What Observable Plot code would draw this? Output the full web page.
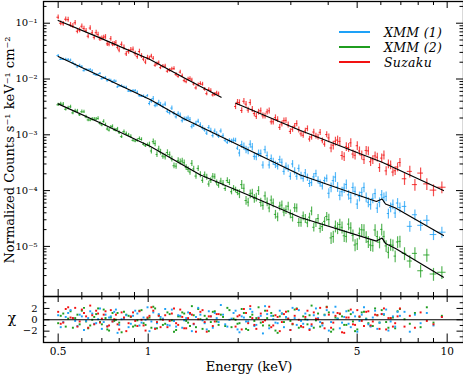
<!DOCTYPE html>
<html><head><meta charset="utf-8">
<script src="https://cdn.jsdelivr.net/npm/d3@7"></script>
<script src="https://cdn.jsdelivr.net/npm/@observablehq/plot@0.6"></script>
<style>
html,body{margin:0;padding:0;background:#fff;}
#chart{position:relative;width:463px;height:376px;overflow:hidden;font-family:"DejaVu Serif",serif;color:#000;background:#fff;}
#chart svg{position:absolute;left:0;}
.lbl{position:absolute;white-space:nowrap;transform:translate(-50%,-50%);}
.leg-line{position:absolute;height:2px;}
.leg-text{position:absolute;white-space:nowrap;font-style:italic;font-size:12.5px;letter-spacing:0.3px;transform:translateY(-50%);}
</style></head><body><div id="chart"></div>
<script>
// ---- data ----
const seriesNames = ["XMM (1)", "XMM (2)", "Suzaku"];
const seriesColors = ["#1ea1f7", "#1f9d1f", "#f21212"];

// XMM channels (two interleaved sets of bin centres, keV)
const xmmEnergies = [0.50,0.52,0.54,0.56,0.58,0.60,0.62,0.64,0.66,0.68,0.70,0.72,0.74,0.76,0.78,0.80,0.83,0.86,0.89,0.92,0.95,0.98,1.01,1.04,1.07,1.10,1.14,1.18,1.22,1.26,1.30,1.34,1.38,1.42,1.47,1.52,1.57,1.62,1.67,1.72,1.78,1.84,1.90,1.96,2.02,2.09,2.16,2.23,2.30,2.38,2.46,2.54,2.62,2.71,2.80,2.89,2.99,3.09,3.19,3.30,3.41,3.52,3.64,3.76,3.89,4.02,4.16,4.30,4.45,4.60,4.76,4.92,5.09,5.27,5.45,5.64,5.84,6.04,6.25,6.47,6.70,6.95,7.20,7.50,7.80,8.15,8.55,9.00,9.60];
const xmmEnergiesB = [0.51,0.53,0.55,0.57,0.59,0.61,0.63,0.65,0.67,0.69,0.71,0.73,0.75,0.77,0.79,0.815,0.845,0.875,0.905,0.935,0.965,0.995,1.025,1.055,1.085,1.12,1.16,1.20,1.24,1.28,1.32,1.36,1.40,1.445,1.495,1.545,1.595,1.645,1.695,1.75,1.81,1.87,1.93,1.99,2.055,2.125,2.195,2.265,2.34,2.42,2.50,2.58,2.665,2.755,2.845,2.94,3.04,3.14,3.245,3.355,3.465,3.58,3.70,3.825,3.955,4.09,4.23,4.375,4.525,4.68,4.84,5.005,5.18,5.36,5.545,5.74,5.94,6.145,6.36,6.585,6.825];

const xmm1Flux = [2.63e-2,2.25e-2,2.21e-2,1.94e-2,1.65e-2,1.66e-2,1.47e-2,1.47e-2,1.22e-2,1.18e-2,
1.01e-2,1.06e-2,9.67e-3,8.74e-3,9.08e-3,7.47e-3,7.17e-3,6.08e-3,6.16e-3,5.78e-3,
4.92e-3,4.66e-3,3.64e-3,4.44e-3,3.45e-3,3.50e-3,3.55e-3,2.49e-3,2.41e-3,2.38e-3,
1.79e-3,1.91e-3,1.88e-3,1.49e-3,1.75e-3,1.33e-3,1.07e-3,1.20e-3,1.17e-3,9.42e-4,
9.63e-4,7.36e-4,7.65e-4,7.96e-4,4.72e-4,6.21e-4,5.18e-4,6.06e-4,4.04e-4,4.64e-4,
5.40e-4,2.88e-4,3.32e-4,2.76e-4,3.22e-4,2.73e-4,1.81e-4,2.23e-4,2.50e-4,1.66e-4,
1.72e-4,1.39e-4,2.02e-4,1.35e-4,1.51e-4,8.96e-5,1.51e-4,1.16e-4,9.56e-5,1.29e-4,
7.30e-5,9.69e-5,7.85e-5,1.14e-4,6.19e-5,7.24e-5,4.85e-5,8.41e-5,7.88e-5,5.00e-5,
3.96e-5,4.98e-5,5.21e-5,2.29e-5,3.69e-5,2.39e-5,2.94e-5,1.63e-5,1.80e-5];
const xmm1FluxB = [2.26e-2,2.24e-2,2.17e-2,1.81e-2,1.75e-2,1.41e-2,1.44e-2,1.39e-2,1.18e-2,1.25e-2,
1.03e-2,9.30e-3,9.45e-3,9.20e-3,7.19e-3,7.48e-3,7.06e-3,6.00e-3,6.18e-3,5.00e-3,
4.94e-3,5.01e-3,4.04e-3,3.34e-3,3.81e-3,3.23e-3,2.64e-3,3.01e-3,2.10e-3,2.25e-3,
1.92e-3,2.00e-3,1.40e-3,1.60e-3,1.51e-3,1.22e-3,1.35e-3,9.68e-4,1.04e-3,1.17e-3,
7.96e-4,7.84e-4,8.01e-4,5.76e-4,6.69e-4,5.40e-4,6.78e-4,4.10e-4,4.64e-4,2.87e-4,
4.26e-4,3.76e-4,2.92e-4,3.60e-4,2.21e-4,2.50e-4,3.00e-4,1.81e-4,1.85e-4,2.08e-4,
1.34e-4,1.76e-4,1.54e-4,1.21e-4,1.66e-4,1.14e-4,1.75e-4,8.24e-5,1.11e-4,8.40e-5,
1.14e-4,5.74e-5,9.29e-5,7.54e-5,5.58e-5,8.84e-5,6.16e-5,7.57e-5,3.88e-5,5.68e-5,
5.99e-5];

const xmm2Flux = [3.45e-3,3.53e-3,3.03e-3,2.47e-3,2.67e-3,2.59e-3,2.09e-3,1.84e-3,1.90e-3,1.96e-3,
1.50e-3,1.51e-3,1.21e-3,1.41e-3,1.21e-3,1.09e-3,1.14e-3,9.92e-4,7.96e-4,7.91e-4,
8.27e-4,6.37e-4,6.60e-4,7.54e-4,4.45e-4,4.91e-4,4.03e-4,4.40e-4,2.79e-4,3.45e-4,
3.38e-4,2.60e-4,2.15e-4,2.45e-4,2.50e-4,1.53e-4,1.75e-4,1.52e-4,1.77e-4,1.25e-4,
1.36e-4,1.52e-4,9.54e-5,1.03e-4,8.76e-5,1.10e-4,6.20e-5,8.98e-5,7.59e-5,6.15e-5,
8.04e-5,4.88e-5,6.00e-5,3.38e-5,5.50e-5,4.55e-5,3.82e-5,4.92e-5,2.69e-5,3.52e-5,
2.64e-5,4.31e-5,2.66e-5,2.10e-5,2.81e-5,3.03e-5,1.50e-5,2.14e-5,2.20e-5,1.51e-5,
2.15e-5,1.06e-5,1.72e-5,1.97e-5,1.21e-5,1.03e-5,1.50e-5,2.02e-5,1.02e-5,1.08e-5,
6.70e-6,1.23e-5,7.51e-6,5.47e-6,7.50e-6,3.66e-6,7.02e-6,3.20e-6,3.44e-6];
const xmm2FluxB = [3.60e-3,2.87e-3,3.17e-3,2.67e-3,2.28e-3,2.58e-3,1.85e-3,1.90e-3,1.90e-3,1.60e-3,
1.74e-3,1.27e-3,1.37e-3,1.23e-3,1.27e-3,9.27e-4,1.05e-3,9.36e-4,7.74e-4,8.56e-4,
6.77e-4,6.63e-4,5.13e-4,6.97e-4,5.56e-4,4.15e-4,4.81e-4,3.69e-4,2.74e-4,3.28e-4,
3.16e-4,2.40e-4,3.08e-4,1.82e-4,1.94e-4,1.92e-4,1.31e-4,1.81e-4,1.39e-4,1.48e-4,
1.09e-4,1.40e-4,1.10e-4,9.22e-5,1.28e-4,6.65e-5,8.73e-5,7.23e-5,9.98e-5,5.44e-5,
6.26e-5,6.76e-5,3.75e-5,5.25e-5,4.14e-5,5.25e-5,3.33e-5,4.90e-5,2.70e-5,3.15e-5,
3.34e-5,2.20e-5,3.16e-5,2.26e-5,3.44e-5,1.42e-5,2.30e-5,2.47e-5,1.55e-5,2.51e-5,
1.58e-5,1.11e-5,1.99e-5,1.48e-5,1.06e-5,1.97e-5,1.19e-5,1.51e-5,7.85e-6,1.05e-5,
1.20e-5];

// Suzaku channels (no data 1.75-1.95 keV)
const suzakuEnergies = [0.50,0.52,0.54,0.56,0.58,0.60,0.62,0.64,0.66,0.68,0.70,0.72,0.74,0.76,0.78,0.80,0.83,0.86,0.89,0.92,0.95,0.98,1.01,1.04,1.07,1.10,1.14,1.18,1.22,1.26,1.30,1.34,1.38,1.42,1.47,1.52,1.57,1.62,1.67,1.72,
1.96,2.02,2.09,2.16,2.23,2.30,2.38,2.46,2.54,2.62,2.71,2.80,2.89,2.99,3.09,3.19,3.30,3.41,3.52,3.64,3.76,3.89,4.02,4.16,4.30,4.45,4.60,4.76,4.92,5.09,5.27,5.45,5.64,5.84,6.04,6.25,6.47,6.70,6.95,7.20,7.50,7.80,8.15,8.55,9.00,9.60];
const suzakuEnergiesB = [0.51,0.53,0.55,0.57,0.59,0.61,0.63,0.65,0.67,0.69,0.71,0.73,0.75,0.77,0.79,0.815,0.845,0.875,0.905,0.935,0.965,0.995,1.025,1.055,1.085,1.12,1.16,1.20,1.24,1.28,1.32,1.36,1.40,1.445,1.495,1.545,1.595,1.645,1.695,
1.99,2.055,2.125,2.195,2.265,2.34,2.42,2.50,2.58,2.665,2.755,2.845,2.94,3.04,3.14,3.245,3.355,3.465,3.58,3.70,3.825,3.955,4.09,4.23,4.375,4.525,4.68,4.84,5.005,5.18,5.36,5.545,5.74,5.94,6.145,6.36,6.585,6.825];

const suzakuFlux = [1.28e-1,9.78e-2,1.16e-1,8.94e-2,7.17e-2,8.82e-2,7.33e-2,8.19e-2,5.58e-2,6.25e-2,
5.38e-2,5.69e-2,4.22e-2,4.22e-2,4.47e-2,3.30e-2,3.69e-2,3.09e-2,3.42e-2,2.52e-2,
2.59e-2,2.01e-2,2.37e-2,2.35e-2,1.86e-2,1.60e-2,1.70e-2,1.43e-2,1.54e-2,1.12e-2,
1.14e-2,8.97e-3,1.02e-2,8.13e-3,7.84e-3,8.08e-3,5.46e-3,6.18e-3,5.28e-3,5.39e-3,
3.22e-3,3.78e-3,3.99e-3,2.77e-3,2.86e-3,2.14e-3,2.70e-3,2.18e-3,2.69e-3,1.71e-3,
1.88e-3,1.57e-3,1.81e-3,1.15e-3,1.43e-3,1.23e-3,9.82e-4,1.29e-3,9.12e-4,9.54e-4,
1.11e-3,6.81e-4,8.80e-4,6.51e-4,8.04e-4,4.26e-4,6.12e-4,7.19e-4,4.29e-4,5.13e-4,
3.59e-4,5.15e-4,3.57e-4,3.97e-4,3.82e-4,2.26e-4,2.88e-4,2.27e-4,3.19e-4,1.63e-4,
2.21e-4,1.28e-4,2.06e-4,1.32e-4,1.02e-4,1.15e-4];
const suzakuFluxB = [1.00e-1,1.18e-1,9.39e-2,1.02e-1,7.51e-2,8.04e-2,5.85e-2,6.73e-2,6.78e-2,5.20e-2,
5.56e-2,4.27e-2,5.28e-2,4.26e-2,3.69e-2,4.19e-2,2.82e-2,3.33e-2,2.85e-2,3.11e-2,
2.27e-2,2.42e-2,2.57e-2,1.76e-2,1.95e-2,1.69e-2,1.38e-2,1.51e-2,1.20e-2,1.33e-2,
9.36e-3,9.91e-3,9.58e-3,6.93e-3,8.28e-3,6.54e-3,6.46e-3,5.18e-3,5.61e-3,
3.83e-3,2.73e-3,3.54e-3,3.78e-3,2.40e-3,2.56e-3,2.19e-3,2.57e-3,1.71e-3,2.03e-3,
1.36e-3,1.79e-3,1.51e-3,1.26e-3,1.59e-3,1.04e-3,1.17e-3,8.40e-4,1.12e-3,9.13e-4,
7.85e-4,1.01e-3,5.81e-4,7.67e-4,7.62e-4,4.05e-4,5.91e-4,4.52e-4,6.37e-4,4.33e-4,
5.24e-4,3.29e-4,4.19e-4,2.58e-4,4.33e-4,3.00e-4,2.15e-4,2.65e-4];

// residuals (chi) per channel
const xmm1Chi = [0.8,-0.4,1.2,0.3,-1.1,0.6,-0.2,1.5,-0.7,0.1,-1.6,0.9,0.4,-0.3,1.8,-0.9,0.2,-1.3,0.7,1.1,-0.5,0.0,-2.0,1.3,-0.6,0.5,1.9,-1.0,-0.2,0.8,-1.4,0.3,1.0,-0.8,2.1,-0.1,-1.7,0.6,1.2,-0.4,0.9,-1.2,0.2,1.6,-2.2,0.4,-0.3,1.4,-0.9,0.7,2.4,-1.5,0.1,-0.6,1.1,0.5,-1.8,0.3,1.7,-0.7,0.0,-1.1,2.0,-0.4,0.8,-1.9,1.3,0.2,-0.5,1.5,-1.3,0.6,-0.2,2.2,-0.8,0.4,-1.6,1.0,1.8,-0.3,-1.2,0.7,1.4,-2.1,0.9,-0.6,1.2,-1.0,0.5];
const xmm1ChiB = [-1.3,0.5,1.7,-0.2,0.9,-1.8,0.3,1.1,-0.6,2.0,-0.4,-1.1,0.6,1.4,-2.3,0.1,0.8,-0.7,1.6,-1.0,0.4,2.2,-0.3,-1.5,1.0,0.2,-0.9,1.8,-1.2,0.7,-0.1,1.3,-2.0,0.5,0.9,-0.6,1.5,-1.4,0.3,2.6,-0.8,0.0,1.2,-1.7,0.6,-0.3,1.9,-1.1,0.4,-2.4,1.0,0.7,-0.5,1.6,-1.3,0.2,2.1,-0.9,-0.2,1.1,-1.6,0.8,0.3,-1.0,1.7,-0.4,2.3,-1.5,0.5,-0.7,1.3,-2.1,0.9,0.1,-1.2,1.6,-0.5,1.0,-1.9,0.6,1.4];
const xmm2Chi = [-0.6,1.1,0.2,-1.4,0.9,1.6,-0.3,-1.0,0.5,2.0,-0.8,0.3,-1.9,1.2,0.0,-0.5,1.4,0.7,-1.2,-0.1,1.7,-0.9,0.4,2.3,-1.5,0.1,-0.7,1.0,-2.1,0.6,1.3,-0.2,-1.1,0.8,1.9,-1.6,0.2,-0.4,1.5,-0.9,0.5,2.1,-1.3,0.0,-0.6,1.2,-1.8,0.9,0.3,-0.5,1.6,-1.0,0.7,-2.3,1.1,0.4,-0.2,1.8,-1.4,0.6,-0.8,2.5,-0.1,-1.2,0.9,1.3,-1.7,0.2,0.6,-0.9,1.0,-2.0,0.5,1.4,-0.6,-1.1,0.8,1.7,-0.4,0.3,-1.5,1.9,0.1,-0.7,1.2,-1.3,2.2,-0.5,0.7];
const xmm2ChiB = [0.7,-1.2,1.5,0.3,-0.8,2.1,-1.5,0.0,1.0,-0.4,1.8,-1.7,0.4,-0.2,1.2,-2.2,0.9,0.5,-1.0,1.6,-0.6,0.2,-1.4,2.0,0.8,-0.9,1.3,-0.1,-1.8,0.6,1.1,-0.5,2.4,-1.3,0.1,0.7,-2.0,1.4,-0.3,0.9,-1.1,1.7,0.2,-0.7,1.9,-1.6,0.5,-0.2,2.2,-1.0,0.3,1.2,-1.9,0.6,-0.4,1.5,-0.8,2.0,-1.2,0.1,0.8,-1.4,1.1,-0.6,2.3,-2.1,0.4,1.0,-0.9,1.6,-0.3,-1.7,1.3,0.2,-1.1,2.0,-0.5,0.9,-1.4,0.4,1.5];
const suzakuChi = [1.4,-0.5,2.2,0.3,-1.2,1.8,0.6,2.5,-0.8,1.1,0.2,1.5,-1.0,-0.3,0.9,-1.7,0.4,-0.6,1.3,-1.1,0.0,-1.9,0.7,1.6,-0.4,-1.3,0.8,-0.2,2.0,-0.9,0.5,-1.5,1.2,-0.7,0.1,1.7,-2.1,0.6,-0.3,1.0,
-1.2,0.8,1.9,-0.6,0.3,-1.6,1.1,-0.1,2.3,-1.0,0.5,-0.4,1.4,-1.8,0.7,0.0,-1.3,1.6,-0.8,0.2,2.1,-1.5,0.9,-0.5,1.2,-2.2,0.4,1.8,-0.9,0.6,-1.1,1.5,-0.3,0.8,1.0,-1.7,0.3,-0.6,2.0,-1.2,0.7,-1.4,1.3,-0.2,-0.8,0.5];
const suzakuChiB = [-0.7,1.9,0.4,2.1,-0.3,1.2,-1.4,0.8,1.6,-0.5,0.9,-1.2,1.7,0.1,-0.8,1.3,-2.0,0.6,-0.2,1.5,-1.0,0.4,2.2,-1.6,0.7,0.0,-1.3,1.1,-0.6,1.8,-1.5,0.3,0.9,-2.1,1.4,-0.4,0.6,-1.1,1.0,
0.6,-1.7,1.2,2.4,-0.9,0.3,-0.4,1.6,-1.3,0.8,-2.0,1.0,0.2,-0.7,1.9,-1.1,0.5,-1.8,1.3,0.1,-0.6,2.2,-1.4,0.7,1.1,-2.3,0.4,-0.8,1.7,-0.2,1.4,-1.0,0.9,-1.6,2.0,0.3,-1.2,0.6];

// relative 1-sigma errors by energy band: [upper edge keV, fraction]
const xmm1RelErr = [[1, 0.05], [2, 0.09], [4, 0.15], [7, 0.2], [12, 0.22]];
const xmm2RelErr = [[1, 0.07], [2, 0.12], [4, 0.18], [7, 0.24], [12, 0.26]];
const suzakuRelErr = [[1, 0.10], [1.9, 0.08], [4, 0.12], [7, 0.18], [12, 0.24]];

// best-fit model curves
const xmm1ModelE = [0.50, 0.693, 1.018, 1.312, 3.23, 5.80, 6.06, 6.22, 6.72, 9.72];
const xmm1ModelV = [2.53e-2, 1.122e-2, 4.24e-3, 1.96e-3, 1.904e-4, 6.38e-5, 7.07e-5, 5.75e-5, 4.88e-5, 1.568e-5];
const xmm2ModelE = [0.50, 0.693, 1.018, 1.496, 2.20, 3.23, 5.80, 6.06, 6.22, 6.72, 9.72];
const xmm2ModelV = [3.59e-3, 1.63e-3, 6.17e-4, 1.90e-4, 8.00e-5, 3.30e-5, 1.245e-5, 1.41e-5, 1.13e-5, 9.17e-6, 2.81e-6];
const suzakuModelE1 = [0.50, 0.693, 1.018, 1.332, 1.754];
const suzakuModelV1 = [0.1118, 0.0541, 0.0221, 0.01025, 4.72e-3];
const suzakuModelE2 = [1.963, 3.23, 6.06, 9.72];
const suzakuModelV2 = [3.68e-3, 1.194e-3, 3.23e-4, 1.004e-4];

// axis ticks
const xMajor = [0.5, 1, 5, 10];
const xMinor = [0.6, 0.7, 0.8, 0.9, 2, 3, 4, 6, 7, 8, 9];
const yMajor = [1e-5, 1e-4, 1e-3, 1e-2, 1e-1];
const chiMajor = [-2, 0, 2];
const chiMinor = [-3, -1, 1, 3];

// ---- build tables ----
function build(name, Ea, Va, Ca, Eb, Vb, Cb, errTable) {
  const pts = [
    ...Ea.map((e, i) => ({e, v: Va[i], c: Ca[i]})),
    ...Eb.map((e, i) => ({e, v: Vb[i], c: Cb[i]}))
  ].sort((a, b) => a.e - b.e);
  return pts.map((p, i) => {
    let ratio = Infinity;
    if (i > 0) ratio = Math.min(ratio, p.e / pts[i - 1].e);
    if (i < pts.length - 1) ratio = Math.min(ratio, pts[i + 1].e / p.e);
    const h = Math.sqrt(ratio);
    const r = errTable.find(([b]) => p.e < b)[1];
    return {series: name, E: p.e, lo: p.e / h, hi: p.e * h, v: p.v, vlo: p.v * (1 - r), vhi: p.v * (1 + r), chi: p.c};
  });
}
const rows = [
  ...build("XMM (2)", xmmEnergies, xmm2Flux, xmm2Chi, xmmEnergiesB, xmm2FluxB, xmm2ChiB, xmm2RelErr),
  ...build("XMM (1)", xmmEnergies, xmm1Flux, xmm1Chi, xmmEnergiesB, xmm1FluxB, xmm1ChiB, xmm1RelErr),
  ...build("Suzaku", suzakuEnergies, suzakuFlux, suzakuChi, suzakuEnergiesB, suzakuFluxB, suzakuChiB, suzakuRelErr)
];
const model = (seg, E, V) => E.map((e, i) => ({seg, E: e, v: V[i]}));
const models = [
  ...model("x1", xmm1ModelE, xmm1ModelV),
  ...model("x2", xmm2ModelE, xmm2ModelV),
  ...model("s1", suzakuModelE1, suzakuModelV1),
  ...model("s2", suzakuModelE2, suzakuModelV2)
];
const yMinor = [];
for (let k = -6; k <= -1; k++) for (let m = 2; m <= 9; m++) yMinor.push(m * Math.pow(10, k));

const supDigits = "⁰¹²³⁴⁵⁶⁷⁸⁹";
const sup10 = d => "10" + String(Math.round(Math.log10(d))).replace("-", "⁻").replace(/\d/g, c => supDigits[+c]);

// ---- layout ----
const W = 463, mL = 43, mR = 0;
const pw = W - mL - mR;
const mainH = 297, mT = 1, mB = 1, ph = mainH - mT - mB;
const resH = 80, rT = 0, rB = 34, rph = resH - rT - rB;
const xDomain = [0.4466, 11.34];
const yDomain = [1.265e-6, 0.245];
const font = {background: "transparent", fontFamily: "'DejaVu Serif', serif", fontSize: "10px", overflow: "visible"};
const colorOpt = {domain: seriesNames, range: seriesColors};
const tk = {stroke: "black", strokeWidth: 1};

const main = Plot.plot({
  width: W, height: mainH, marginLeft: mL, marginRight: mR, marginTop: mT, marginBottom: mB,
  style: font,
  x: {type: "log", domain: xDomain, axis: null},
  y: {type: "log", domain: yDomain},
  color: colorOpt,
  marks: [
    Plot.ruleX(rows, {x: "E", y1: "vlo", y2: "vhi", stroke: "series", strokeOpacity: 0.75, strokeWidth: 1.2}),
    Plot.ruleY(rows, {y: "v", x1: "lo", x2: "hi", stroke: "series", strokeOpacity: 0.85, strokeWidth: 1}),
    Plot.line(models, {x: "E", y: "v", z: "seg", stroke: "black", strokeWidth: 1.2}),
    Plot.tickY(yMajor, {...tk, insetRight: pw - 7}),
    Plot.tickY(yMajor, {...tk, insetLeft: pw - 7}),
    Plot.tickY(yMinor, {...tk, insetRight: pw - 3.5}),
    Plot.tickY(yMinor, {...tk, insetLeft: pw - 3.5}),
    Plot.tickX(xMajor, {...tk, insetBottom: ph - 7}),
    Plot.tickX(xMajor, {...tk, insetTop: ph - 7}),
    Plot.tickX(xMinor, {...tk, insetBottom: ph - 4}),
    Plot.tickX(xMinor, {...tk, insetTop: ph - 4}),
    Plot.axisY({ticks: yMajor, tickSize: 0, tickPadding: 6, tickFormat: sup10, label: null, fontSize: 10}),
    Plot.frame({stroke: "black", strokeWidth: 1.3})
  ]
});
main.style.top = "0px";

const res = Plot.plot({
  width: W, height: resH, marginLeft: mL, marginRight: mR, marginTop: rT, marginBottom: rB,
  style: font,
  x: {type: "log", domain: xDomain},
  y: {domain: [-4, 4.1]},
  color: colorOpt,
  marks: [
    Plot.dot(rows, {x: "E", y: "chi", fill: "series", r: 1.1, symbol: "square"}),
    Plot.ruleY([0], {stroke: "black", strokeWidth: 1.1}),
    Plot.tickY(chiMajor, {...tk, insetRight: pw - 6.5}),
    Plot.tickY(chiMajor, {...tk, insetLeft: pw - 6.5}),
    Plot.tickY(chiMinor, {...tk, insetRight: pw - 3.3}),
    Plot.tickY(chiMinor, {...tk, insetLeft: pw - 3.3}),
    Plot.tickX(xMajor, {...tk, insetBottom: rph - 6}),
    Plot.tickX(xMajor, {...tk, insetTop: rph - 8.5}),
    Plot.tickX(xMinor, {...tk, insetBottom: rph - 3.5}),
    Plot.tickX(xMinor, {...tk, insetTop: rph - 4}),
    Plot.axisY({ticks: chiMajor, tickSize: 0, tickPadding: 6, label: null, fontSize: 10}),
    Plot.axisX({ticks: xMajor, tickSize: 0, tickPadding: 5, tickFormat: d => String(d), label: null, fontSize: 10.5}),
    Plot.frame({stroke: "black", strokeWidth: 1.3})
  ]
});
res.style.top = "296px";

const chart = document.getElementById("chart");
chart.append(main, res);

function addLabel(html, x, y, css) {
  const d = document.createElement("div");
  d.className = "lbl";
  d.innerHTML = html;
  d.style.left = x + "px";
  d.style.top = y + "px";
  Object.assign(d.style, css || {});
  chart.append(d);
  return d;
}
addLabel("Normalized Counts s⁻¹ keV⁻¹ cm⁻²", 9, 150, {fontSize: "13px", transform: "translate(-50%,-50%) rotate(-90deg)"});
addLabel("χ", 12, 318, {fontSize: "14px"});
addLabel("Energy (keV)", 249, 366, {fontSize: "13px"});

const legendY = [31.5, 46.5, 62];
seriesNames.forEach((name, i) => {
  const ln = document.createElement("div");
  ln.className = "leg-line";
  ln.style.left = "339px"; ln.style.width = "31px";
  ln.style.top = (legendY[i] - 1) + "px";
  ln.style.background = seriesColors[i];
  chart.append(ln);
  const t = document.createElement("div");
  t.className = "leg-text";
  t.textContent = name;
  t.style.left = "384px";
  t.style.top = legendY[i] + "px";
  chart.append(t);
});
</script></body></html>
